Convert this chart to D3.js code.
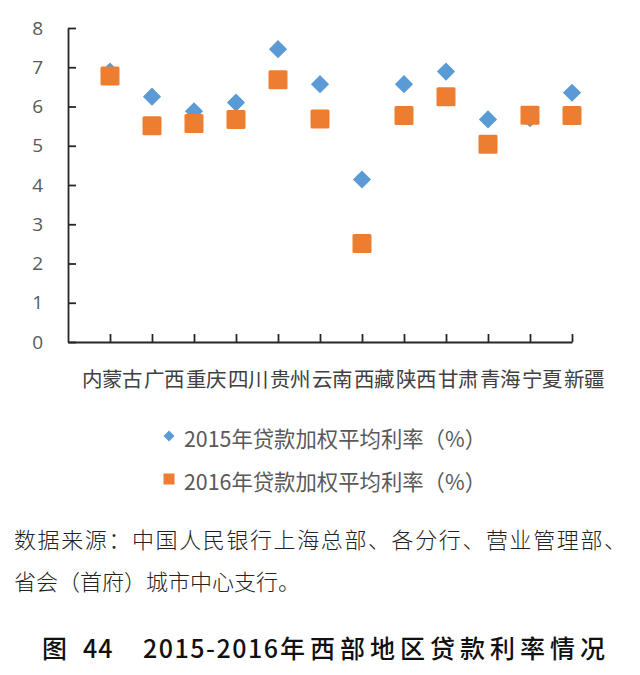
<!DOCTYPE html>
<html>
<head>
<meta charset="utf-8">
<script src="https://cdn.jsdelivr.net/npm/d3@7"></script>
<style>
  body { margin: 0; background: #fff; }
  svg { display: block; }
</style>
</head>
<body>
<div id="chart"></div>
<script>
// categories and values
const regions = ['内蒙古', '广西', '重庆', '四川', '贵州', '云南', '西藏', '陕西', '甘肃', '青海', '宁夏', '新疆'];
const rate2015 = [6.89, 6.25, 5.88, 6.10, 7.46, 6.57, 4.14, 6.57, 6.89, 5.67, 5.70, 6.35];
const rate2016 = [6.78, 5.51, 5.57, 5.67, 6.68, 5.68, 2.51, 5.77, 6.25, 5.04, 5.78, 5.77];
const yTicks = [0, 1, 2, 3, 4, 5, 6, 7, 8];
const legendLabels = ['2015年贷款加权平均利率（%）', '2016年贷款加权平均利率（%）'];
const sourceLines = ['数据来源：中国人民银行上海总部、各分行、营业管理部、', '省会（首府）城市中心支行。'];
// title pieces: text, left edge, letter spacing
const titleParts = [['图', 42, 0], ['44', 83, 1], ['2015-2016', 143, 1.5], ['年西部地区贷款利率情况', 280, 5]];

const width = 640;
const height = 675;
const blue = '#5B9BD5';
const orange = '#ED7D31';
const cjk = '"Noto Sans CJK SC", "Noto Sans", sans-serif';

const svg = d3.select('#chart')
  .append('svg')
  .attr('width', width)
  .attr('height', height);

// scatter x axis runs 0..12, points sit on 1..12
const x = d3.scaleLinear().domain([0, 12]).range([68, 572]);
const y = d3.scaleLinear().domain([0, 8]).range([342, 28]);

// axes with inside ticks
svg.append('g')
  .attr('transform', `translate(0, ${y(0)})`)
  .call(d3.axisBottom(x)
    .tickValues(d3.range(1, 13))
    .tickSizeInner(-8)
    .tickSizeOuter(0)
    .tickFormat(''));

const yAxis = svg.append('g')
  .attr('transform', `translate(${x(0)}, 0)`)
  .call(d3.axisLeft(y)
    .tickValues(yTicks)
    .tickSizeInner(-8)
    .tickSizeOuter(0)
    .tickPadding(25));

svg.selectAll('.domain, .tick line')
  .attr('stroke', '#262626')
  .attr('stroke-width', 1.8);

yAxis.selectAll('text')
  .attr('fill', '#595959')
  .style('font-family', '"Open Sans", "DejaVu Sans", sans-serif')
  .style('font-size', '19px');

// category labels, set a little right of the ticks as in the original
svg.append('g')
  .selectAll('text')
  .data(regions)
  .enter()
  .append('text')
  .attr('x', (d, i) => x(i + 1) + 32)
  .attr('y', 378)
  .attr('text-anchor', 'end')
  .attr('dominant-baseline', 'central')
  .attr('fill', '#404040')
  .style('font-family', cjk)
  .style('font-size', '20.5px')
  .style('letter-spacing', '-0.5px')
  .text(d => d);

// 2015 diamonds
const diamond = d3.symbol().type(d3.symbolSquare).size(165);

svg.append('g')
  .selectAll('path')
  .data(rate2015)
  .enter()
  .append('path')
  .attr('d', diamond)
  .attr('fill', blue)
  .attr('transform', (d, i) => `translate(${x(i + 1)}, ${y(d)}) rotate(45)`);

// 2016 squares
const side = 19;
svg.append('g')
  .selectAll('rect')
  .data(rate2016)
  .enter()
  .append('rect')
  .attr('x', (d, i) => x(i + 1) - side / 2)
  .attr('y', d => y(d) - side / 2)
  .attr('width', side)
  .attr('height', side)
  .attr('rx', 1.5)
  .attr('fill', orange);

// legend
const legend = svg.append('g')
  .selectAll('g')
  .data(legendLabels)
  .enter()
  .append('g')
  .attr('transform', (d, i) => `translate(169, ${436 + i * 43})`);

legend.filter((d, i) => i === 0)
  .append('path')
  .attr('d', d3.symbol().type(d3.symbolSquare).size(60))
  .attr('transform', 'rotate(45)')
  .attr('fill', blue);

legend.filter((d, i) => i === 1)
  .append('rect')
  .attr('x', -5.5)
  .attr('y', -5.5)
  .attr('width', 11)
  .attr('height', 11)
  .attr('fill', orange);

legend.append('text')
  .attr('x', 15)
  .attr('y', 1)
  .attr('dominant-baseline', 'central')
  .attr('fill', '#595959')
  .attr('textLength', 302)
  .attr('lengthAdjust', 'spacingAndGlyphs')
  .style('font-family', cjk)
  .style('font-size', '22px')
  .text(d => d);

// source note
svg.append('g')
  .selectAll('text')
  .data(sourceLines)
  .enter()
  .append('text')
  .attr('x', 14)
  .attr('y', (d, i) => 538 + i * 42)
  .attr('dominant-baseline', 'central')
  .attr('fill', '#222')
  .style('font-family', cjk)
  .style('font-weight', 300)
  .style('font-size', '22px')
  .each(function (d, i) {
    if (i === 0) d3.select(this).attr('textLength', 612).attr('lengthAdjust', 'spacing');
  })
  .text(d => d);

// figure title
const titleText = svg.append('text')
  .attr('y', 647)
  .attr('dominant-baseline', 'central')
  .attr('fill', '#111')
  .style('font-family', cjk)
  .style('font-weight', 500)
  .style('font-size', '25px');

titleText.selectAll('tspan')
  .data(titleParts)
  .enter()
  .append('tspan')
  .attr('x', d => d[1])
  .style('letter-spacing', d => d[2] + 'px')
  .text(d => d[0]);
</script>
</body>
</html>
